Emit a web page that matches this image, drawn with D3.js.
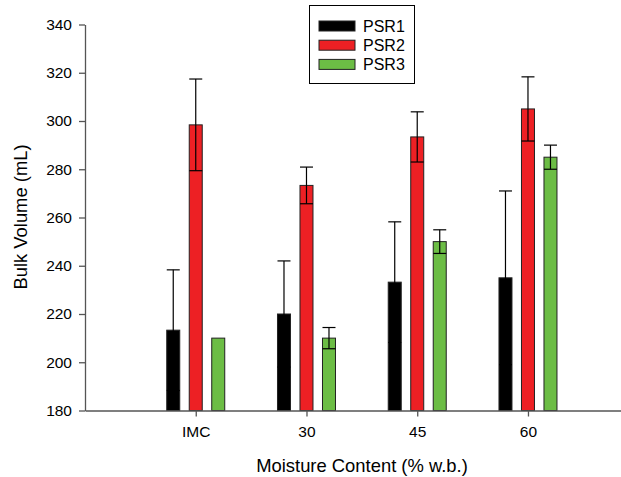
<!DOCTYPE html>
<html>
<head>
<meta charset="utf-8">
<script src="https://cdn.jsdelivr.net/npm/d3@7"></script>
<style>
  body { margin: 0; background: #fff; }
  svg { display: block; font-family: Arial, "Liberation Sans", sans-serif; }
</style>
</head>
<body>
<svg width="621" height="477"></svg>
<script>
var categories = ["IMC", "30", "45", "60"];
var seriesNames = ["PSR1", "PSR2", "PSR3"];
var colors = ["#000000", "#ed2024", "#6cbd45"];
var psr1 = [213.3, 220, 233.2, 235];
var psr2 = [298.4, 273.3, 293.4, 305];
var psr3 = [210, 210, 250, 285];
var err1 = [25, 22, 25, 36];
var err2 = [19, 7.6, 10.4, 13.3];
var err3 = [0, 4.4, 4.9, 5];
var yTicks = [180, 200, 220, 240, 260, 280, 300, 320, 340];

var svg = d3.select("svg");

var y = d3.scaleLinear().domain([180, 340]).range([410.5, 24.5]);
var x = d3.scaleLinear().domain([0, 4.84]).range([85, 621]);   // category i sits at i+1
var offset = d3.scalePoint().domain(seriesNames).range([-22.5, 22.5]);
var barW = 13;

var values = [psr1, psr2, psr3], errs = [err1, err2, err3];
var data = [];
seriesNames.forEach(function(s, si) {
  categories.forEach(function(c, ci) {
    data.push({series: s, si: si, ci: ci, v: values[si][ci], e: errs[si][ci]});
  });
});

// bars
svg.append("g").selectAll("rect")
    .data(data)
  .enter().append("rect")
    .attr("x", function(d) { return x(d.ci + 1) + offset(d.series) - barW / 2; })
    .attr("y", function(d) { return y(d.v); })
    .attr("width", barW)
    .attr("height", function(d) { return y(180) - y(d.v); })
    .attr("fill", function(d) { return colors[d.si]; })
    .attr("stroke", "#222")
    .attr("stroke-width", 1);

// error bars
var eb = svg.append("g").attr("stroke", "#000").attr("stroke-width", 1.2)
  .selectAll("g")
    .data(data.filter(function(d) { return d.e > 0; }))
  .enter().append("g")
    .attr("transform", function(d) { return "translate(" + (x(d.ci + 1) + offset(d.series)) + ",0)"; });
eb.append("line")
    .attr("y1", function(d) { return y(d.v - d.e); })
    .attr("y2", function(d) { return y(d.v + d.e); });
eb.append("line")
    .attr("x1", -6.5).attr("x2", 6.5)
    .attr("y1", function(d) { return y(d.v + d.e); })
    .attr("y2", function(d) { return y(d.v + d.e); });
eb.append("line")
    .attr("x1", -6.5).attr("x2", 6.5)
    .attr("y1", function(d) { return y(d.v - d.e); })
    .attr("y2", function(d) { return y(d.v - d.e); });

// axes
svg.append("g")
    .attr("transform", "translate(85,0)")
    .call(d3.axisLeft(y).tickValues(yTicks).tickSize(6).tickPadding(7).tickSizeOuter(0));
svg.append("g")
    .attr("transform", "translate(0,410.5)")
    .call(d3.axisBottom(x).tickValues([1, 2, 3, 4]).tickSize(6).tickPadding(9).tickSizeOuter(0)
      .tickFormat(function(d) { return categories[d - 1]; }));
svg.selectAll(".domain, .tick line").attr("stroke", "#555").attr("stroke-width", 1.3);
svg.selectAll(".tick text").attr("font-size", 15.5).attr("fill", "#000")
    .attr("font-family", "Arial, 'Liberation Sans', sans-serif");

svg.append("text")
    .attr("transform", "translate(27,217) rotate(-90)")
    .attr("text-anchor", "middle")
    .attr("font-size", 18.4)
    .text("Bulk Volume (mL)");
svg.append("text")
    .attr("x", 362).attr("y", 472)
    .attr("text-anchor", "middle")
    .attr("font-size", 18.4)
    .text("Moisture Content (% w.b.)");

// legend
var legend = svg.append("g");
legend.append("rect")
    .attr("x", 309.5).attr("y", 5.5).attr("width", 105).attr("height", 78)
    .attr("fill", "#fff").attr("stroke", "#000").attr("stroke-width", 1);
var li = legend.selectAll("g.item")
    .data(seriesNames)
  .enter().append("g")
    .attr("class", "item")
    .attr("transform", function(d, i) { return "translate(319," + (21 + i * 19.2) + ")"; });
li.append("rect")
    .attr("width", 36).attr("height", 10)
    .attr("fill", function(d, i) { return colors[i]; })
    .attr("stroke", "#222");
li.append("text")
    .attr("x", 44).attr("y", 10.5)
    .attr("font-size", 16)
    .text(function(d) { return d; });
</script>
</body>
</html>
